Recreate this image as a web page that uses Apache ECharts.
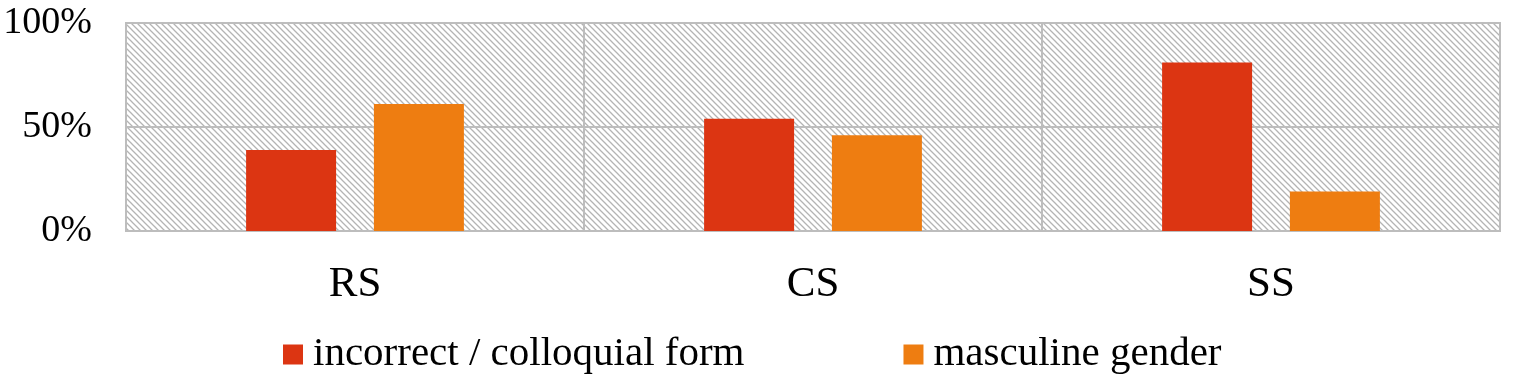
<!DOCTYPE html>
<html>
<head>
<meta charset="utf-8">
<script src="https://cdn.jsdelivr.net/npm/echarts@6/dist/echarts.min.js"></script>
<style>
html,body{margin:0;padding:0;background:#fff;}
#chart{width:1516px;height:379px;}
</style>
</head>
<body>
<div id="chart"></div>
<script>
const categories = ['RS', 'CS', 'SS'];
const seriesNames = ['incorrect / colloquial form', 'masculine gender'];
const incorrectValues = [39, 54, 81];
const masculineValues = [61, 46, 19];
const yTicks = [0, 50, 100];

const FONT = "'Liberation Serif', 'Times New Roman', serif";

// hatch pattern for plot background
const pc = document.createElement('canvas');
pc.width = 6; pc.height = 6;
const pctx = pc.getContext('2d');
pctx.fillStyle = '#ffffff';
pctx.fillRect(0, 0, 6, 6);
pctx.strokeStyle = '#b4b4b4';
pctx.lineWidth = 1.3;
pctx.beginPath();
pctx.moveTo(-1, -1); pctx.lineTo(7, 7);
pctx.moveTo(-1, 5); pctx.lineTo(1, 7);
pctx.moveTo(5, -1); pctx.lineTo(7, 1);
pctx.stroke();

const chart = echarts.init(document.getElementById('chart'), null, {renderer: 'canvas'});
chart.setOption({
  animation: false,
  backgroundColor: '#ffffff',
  grid: {
    left: 126, right: 16, top: 23, bottom: 148,
    show: true,
    backgroundColor: {image: pc, repeat: 'repeat'},
    borderColor: '#bdbdbd',
    borderWidth: 2
  },
  legend: {
    data: seriesNames,
    left: 278,
    top: 329,
    icon: 'rect',
    itemWidth: 20,
    itemHeight: 20,
    itemGap: 159,
    textStyle: {fontFamily: FONT, fontSize: 41, color: '#000', padding: [0, 0, 0, 5]}
  },
  xAxis: {
    type: 'category',
    data: categories,
    axisLine: {show: true, lineStyle: {color: '#bdbdbd', width: 2}},
    axisTick: {show: false},
    splitLine: {show: true, lineStyle: {color: '#bdbdbd', width: 2}},
    axisLabel: {fontFamily: FONT, fontSize: 43, color: '#000', margin: 32}
  },
  yAxis: {
    type: 'value',
    min: yTicks[0],
    max: yTicks[yTicks.length - 1],
    interval: yTicks[1] - yTicks[0],
    axisLine: {show: false},
    axisTick: {show: false},
    splitLine: {show: true, lineStyle: {color: '#bdbdbd', width: 2}},
    axisLabel: {fontFamily: FONT, fontSize: 38, color: '#000', margin: 34, formatter: '{value}%'}
  },
  series: [
    {
      name: seriesNames[0],
      type: 'bar',
      data: incorrectValues,
      barWidth: 90,
      barGap: '42%',
      itemStyle: {color: '#dc3512'}
    },
    {
      name: seriesNames[1],
      type: 'bar',
      data: masculineValues,
      barWidth: 90,
      itemStyle: {color: '#ee7d11'}
    }
  ]
});
</script>
</body>
</html>
